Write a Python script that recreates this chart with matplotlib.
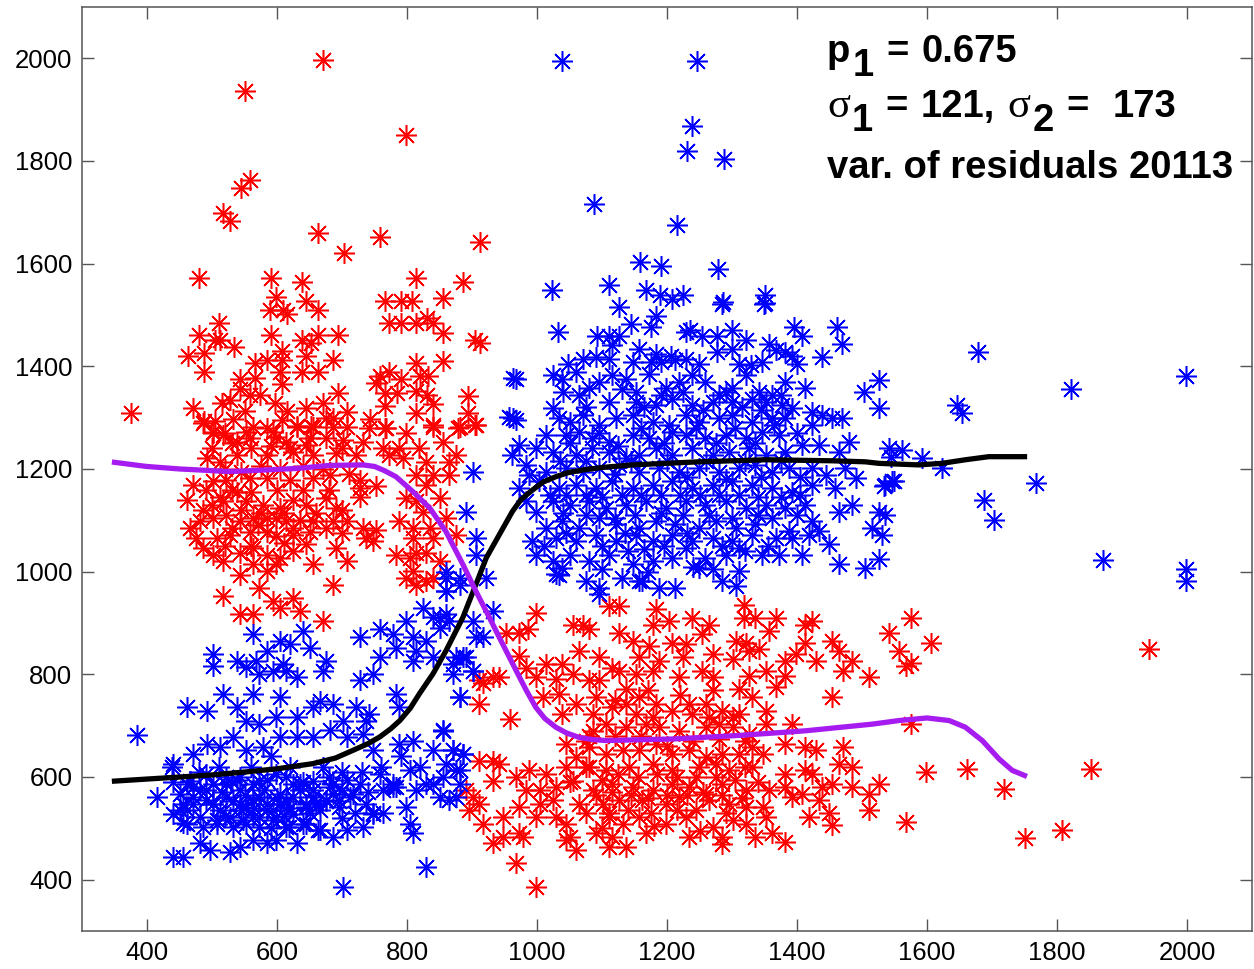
import matplotlib
matplotlib.use("Agg")
import matplotlib.pyplot as plt
from matplotlib.transforms import IdentityTransform
import numpy as np

plt.rcParams["font.family"] = ["Liberation Sans", "DejaVu Sans"]

# red points, upper-left group (x, y)
red_upper = [
    (671, 1996), (551, 1937), (799, 1850), (559, 1763), (544, 1747), (517, 1699), (527, 1683),
    (663, 1659), (703, 1620), (758, 1651), (912, 1642), (480, 1572), (590, 1572), (638, 1565),
    (599, 1536), (645, 1527), (663, 1510), (589, 1509), (609, 1509), (616, 1501), (814, 1572),
    (886, 1565), (766, 1527), (791, 1527), (807, 1527), (855, 1533), (773, 1485), (791, 1485),
    (814, 1485), (830, 1494), (840, 1485), (855, 1465), (855, 1410), (904, 1452), (912, 1446),
    (511, 1485), (480, 1462), (505, 1452), (512, 1452), (534, 1438), (463, 1420), (488, 1426),
    (488, 1388), (590, 1462), (638, 1452), (653, 1446), (663, 1462), (694, 1462), (645, 1420),
    (686, 1413), (607, 1430), (607, 1413), (584, 1413), (566, 1407), (566, 1378), (604, 1388),
    (607, 1365), (638, 1388), (663, 1388), (543, 1375), (543, 1355), (558, 1345), (574, 1345),
    (694, 1349), (753, 1368), (758, 1381), (773, 1388), (791, 1375), (766, 1349), (784, 1349),
    (766, 1323), (814, 1407), (820, 1381), (832, 1381), (814, 1352), (830, 1345), (840, 1326),
    (894, 1342), (894, 1310), (904, 1286), (814, 1310), (840, 1286), (878, 1280), (376, 1310),
    (470, 1318), (488, 1294), (505, 1294), (520, 1270), (502, 1270), (515, 1328), (528, 1334),
    (533, 1297), (551, 1313), (597, 1328), (615, 1313), (607, 1296), (645, 1318), (671, 1328),
    (676, 1299), (686, 1299), (707, 1312), (743, 1297), (766, 1280), (799, 1270), (630, 1283),
    (653, 1283), (594, 1273), (553, 1273),
    (486, 1289), (502, 1273), (563, 1282), (584, 1279), (630, 1282), (655, 1282), (686, 1282),
    (707, 1282), (742, 1279), (768, 1279), (840, 1282), (881, 1282), (906, 1286),
    (517, 1266), (538, 1253), (558, 1260), (599, 1263), (614, 1253), (645, 1247), (676, 1260),
    (701, 1256), (732, 1253), (763, 1240), (788, 1240), (819, 1240), (855, 1253), (876, 1227),
    (492, 1221), (512, 1214), (538, 1227), (584, 1227), (625, 1234), (655, 1227), (691, 1231),
    (722, 1227), (773, 1227), (794, 1221), (829, 1214), (865, 1214),
    (471, 1169), (502, 1176), (522, 1179), (558, 1182), (584, 1182), (620, 1179), (655, 1182),
    (681, 1188), (727, 1179), (727, 1163), (753, 1166), (814, 1188), (840, 1188), (865, 1188),
    (829, 1169),
    (461, 1140), (486, 1121), (512, 1146), (517, 1137), (538, 1156), (553, 1137), (579, 1130),
    (604, 1124), (625, 1140), (645, 1130), (676, 1143), (691, 1124), (727, 1146), (799, 1143),
    (814, 1137), (850, 1143), (824, 1117),
    (466, 1085), (481, 1098), (502, 1104), (522, 1111), (543, 1098), (563, 1104), (584, 1104),
    (599, 1104), (614, 1098), (635, 1101), (655, 1098), (686, 1098), (707, 1098), (732, 1085),
    (753, 1082), (788, 1098), (809, 1085), (860, 1104), (835, 1085), (476, 1066), (507, 1066),
    (527, 1072), (558, 1078), (584, 1078), (599, 1069), (625, 1072), (650, 1078), (676, 1085),
    (737, 1066), (748, 1059), (809, 1066), (840, 1066), (876, 1072),
    (486, 1046), (502, 1033), (517, 1020), (543, 1036), (563, 1046), (584, 1033), (604, 1027),
    (625, 1040), (645, 1053), (691, 1046), (707, 1020), (655, 1014), (563, 1014), (584, 1001),
    (599, 1014), (783, 1033), (804, 1027), (814, 1036), (829, 1036), (850, 1020), (809, 1001),
    (799, 988),
    (543, 994), (573, 969), (517, 952), (594, 943), (604, 930), (625, 949), (635, 923),
    (543, 917), (563, 917), (686, 975), (671, 904), (814, 975), (829, 981), (840, 988),
]

# overlapping marks in the dense middle of the upper-left red group
red_upper_core = [
    (500, 1240), (530, 1250), (560, 1240), (590, 1245), (620, 1240), (650, 1260), (700, 1240),
    (520, 1200), (545, 1195), (575, 1205), (605, 1200), (640, 1205), (670, 1200), (710, 1190),
    (490, 1160), (530, 1160), (560, 1155), (600, 1160), (640, 1160), (680, 1160), (545, 1120),
    (575, 1115), (610, 1115), (660, 1115), (700, 1120), (500, 1130), (530, 1085), (570, 1090),
    (625, 1085), (700, 1075), (560, 1050), (610, 1055), (520, 1050),
]

# red points, lower-right group
red_lower = [
    (911, 788), (932, 794), (911, 742), (911, 632), (932, 632), (891, 574), (901, 561),
    (911, 548), (896, 535), (917, 509), (932, 471),
    (998, 920), (1111, 933), (1126, 933), (1183, 927), (1178, 897), (1203, 904), (1239, 910),
    (1265, 897), (1318, 936), (1318, 910), (1336, 910), (1367, 910), (1413, 897), (1423, 904),
    (952, 881), (973, 881), (986, 888), (1055, 897), (1070, 897), (1080, 888), (1126, 881),
    (1147, 865), (1173, 855), (1208, 862), (1229, 859), (1254, 878), (1306, 865), (1321, 862),
    (1357, 885), (1454, 865), (1541, 881), (1413, 862),
    (973, 836), (983, 813), (1014, 820), (1039, 820), (1065, 846), (1096, 833), (1116, 813),
    (1157, 833), (1188, 826), (1224, 833), (1270, 839), (1301, 830), (1326, 846), (1342, 849),
    (1382, 826), (1398, 839), (1429, 826), (1464, 846), (1485, 826), (1557, 846),
    (917, 784), (942, 794), (998, 794), (1029, 791), (1055, 800), (1080, 788), (1096, 788),
    (1126, 807), (1152, 800), (1178, 807), (1219, 794), (1254, 807), (1270, 794), (1326, 797),
    (1352, 807), (1382, 797), (1470, 807), (1510, 794), (1367, 775), (1311, 771), (1137, 771),
    (1009, 755), (1034, 762), (1060, 742), (1091, 755), (1116, 736), (1137, 742), (1157, 755),
    (1183, 742), (1208, 729), (1234, 742), (1260, 742), (1285, 729), (1311, 723), (1331, 755),
    (1352, 729), (1454, 755), (958, 713), (1039, 723), (1086, 723), (1152, 723), (1178, 716),
    (1239, 723), (1265, 716), (1301, 716),
    (1086, 690), (1106, 703), (1137, 697), (1167, 703), (1188, 697), (1219, 690), (1260, 697),
    (1280, 703), (1301, 697), (1326, 684), (1352, 703), (1393, 703), (1382, 665), (1045, 665),
    (1075, 671),
    (1060, 639), (1080, 658), (1106, 645), (1132, 652), (1157, 652), (1183, 665), (1208, 645),
    (1234, 652), (1260, 639), (1285, 645), (1311, 645), (1331, 658), (1347, 645), (1413, 658),
    (1429, 652), (1470, 658), (942, 626), (988, 613), (1014, 606), (1045, 619), (1075, 619),
    (1106, 613), (1142, 619), (1178, 626), (1208, 613), (1249, 619), (1275, 626), (1295, 613),
    (1331, 619), (1382, 606), (1413, 613), (1423, 606), (1464, 626), (1485, 619),
    (932, 593), (968, 600), (983, 574), (1004, 574), (1029, 580), (1055, 593), (1086, 574),
    (1116, 587), (1147, 580), (1178, 574), (1208, 587), (1234, 580), (1260, 567), (1285, 587),
    (1321, 574), (1357, 574), (1382, 580), (1408, 567), (1439, 580), (1454, 587), (1485, 580),
    (1526, 587), (1510, 567), (973, 542), (1004, 548), (1024, 555), (1065, 548), (1101, 548),
    (1126, 555), (1162, 555), (1198, 548), (1219, 561), (1265, 555), (1295, 548), (1321, 542),
    (1347, 542), (1393, 561), (1434, 555),
    (947, 522), (973, 490), (998, 522), (1029, 522), (1045, 509), (1075, 529), (1111, 522),
    (1132, 509), (1157, 522), (1198, 509), (1229, 522), (1270, 503), (1301, 516), (1321, 509),
    (1352, 522), (1418, 522), (1449, 529), (1510, 535), (1454, 506), (947, 483), (978, 483),
    (1050, 483), (1091, 490), (1116, 483), (1167, 490), (1234, 483), (1285, 483), (1336, 483),
    (1362, 490),
    (1045, 477), (1060, 458), (1111, 464), (1137, 464), (1285, 470), (1382, 474), (968, 432),
    (998, 386),
]

red_lower_core = [
    (1080, 620), (1100, 595), (1125, 605), (1155, 600), (1185, 605), (1215, 600), (1245, 600),
    (1275, 600), (1305, 595), (1090, 565), (1115, 570), (1145, 565), (1170, 560), (1200, 565),
    (1230, 565), (1255, 570), (1285, 565), (1315, 560), (1110, 530), (1140, 535), (1175, 530),
    (1215, 535), (1245, 535), (1290, 530), (1080, 680), (1120, 680), (1160, 680), (1200, 660),
    (1240, 670), (1280, 675), (1320, 670), (1120, 750), (1170, 770), (1220, 760), (1270, 770),
    (1100, 500), (1180, 505), (1250, 495), (1050, 590), (1320, 620), (1340, 590),
]

# red points far to the right
red_right = [
    (1575, 910), (1606, 862), (1567, 817), (1575, 823), (1575, 703), (1598, 610), (1662, 616),
    (1718, 577), (1567, 512), (1751, 481), (1807, 496), (1853, 616), (1942, 849),
]

# blue points, lower-left group
blue_lower = [
    (563, 878), (584, 846), (604, 865), (620, 859), (640, 885), (650, 852), (727, 872),
    (758, 888), (778, 878), (799, 904), (824, 930), (840, 911), (860, 917), (809, 872),
    (829, 865), (783, 852), (814, 846), (850, 891),
    (502, 839), (502, 817), (538, 826), (553, 814), (568, 826), (573, 801), (594, 807),
    (614, 807), (630, 794), (609, 820), (676, 826), (671, 807), (758, 833), (748, 801),
    (727, 788), (809, 826), (840, 833), (870, 820), (886, 833), (901, 807), (881, 755),
    (461, 736), (492, 729), (517, 762), (538, 736), (553, 710), (573, 704), (563, 762),
    (604, 755), (599, 717), (630, 717), (655, 736), (666, 749), (686, 742), (701, 710),
    (722, 736), (737, 710), (742, 723), (783, 762), (788, 736),
    (384, 681), (440, 626), (471, 645), (492, 665), (512, 658), (533, 678), (553, 652),
    (579, 658), (604, 678), (630, 678), (655, 678), (681, 691), (707, 678), (732, 684),
    (748, 652), (788, 665), (809, 671), (855, 691), (840, 652), (870, 652), (886, 645),
    (415, 561), (461, 587), (481, 574), (502, 587), (522, 600), (538, 594), (563, 587),
    (584, 594), (614, 600), (635, 587), (655, 574), (686, 587), (707, 594), (727, 587),
    (758, 606), (783, 581), (804, 613), (829, 587), (855, 600), (876, 613), (881, 587),
    (451, 535), (471, 548), (502, 548), (522, 561), (543, 548), (563, 555), (584, 535),
    (604, 548), (625, 561), (645, 542), (676, 555), (696, 542), (712, 561), (748, 529),
    (763, 529), (778, 587), (799, 542), (814, 574), (840, 587), (850, 561),
    (461, 509), (486, 503), (507, 516), (527, 522), (553, 509), (573, 522), (594, 516),
    (614, 503), (645, 509), (666, 497), (686, 484), (707, 497), (732, 503), (804, 509),
    (809, 490),
    (440, 445), (456, 445), (481, 471), (497, 458), (527, 454), (543, 464), (563, 477),
    (584, 471), (599, 477), (630, 471), (663, 496),
    (456, 548), (471, 561), (491, 574), (502, 548), (512, 535), (532, 554), (543, 574),
    (553, 541), (563, 522), (573, 561), (584, 548), (594, 535), (604, 567), (614, 554),
    (625, 528), (635, 574), (645, 548), (655, 561), (666, 535), (676, 554), (686, 567),
    (481, 522), (507, 509), (532, 503), (548, 516), (573, 503), (599, 522), (619, 503),
    (640, 509), (466, 593), (491, 606), (522, 587), (543, 600), (573, 593), (599, 606),
    (625, 587), (655, 593), (681, 580), (696, 554), (717, 567), (737, 548), (747, 528),
    (763, 574), (778, 580), (450, 567), (440, 528), (461, 535),
    (860, 988), (881, 988), (922, 988), (860, 962), (850, 910), (865, 904), (901, 904),
    (906, 872), (932, 923), (917, 872), (876, 833), (891, 833), (901, 807), (870, 800),
    (881, 755), (855, 690), (870, 652), (886, 645), (860, 626), (881, 613), (865, 555),
    (876, 561),
]

blue_lower_core = [
    (470, 580), (490, 555), (515, 570), (530, 590), (550, 565), (565, 540), (580, 575),
    (600, 560), (620, 540), (640, 590), (660, 550), (680, 600), (700, 575), (520, 525),
    (545, 535), (590, 500), (610, 525), (650, 530), (480, 610), (510, 620), (560, 620),
    (590, 640), (620, 620), (670, 620), (700, 610), (730, 610), (760, 620), (790, 640),
    (820, 620), (440, 590), (455, 510), (720, 530), (700, 520), (740, 570),
]

# blue points, upper-right group
blue_upper = [
    (1126, 1515), (1285, 1522), (1349, 1522), (1032, 1467), (1093, 1460), (1111, 1460),
    (1126, 1460), (1144, 1483), (1175, 1476), (1183, 1499), (1229, 1467), (1236, 1470),
    (1254, 1460), (1277, 1460), (1300, 1470), (1321, 1451), (1395, 1476), (1408, 1460),
    (1462, 1476), (1469, 1444),
    (1116, 1441), (1157, 1434), (1183, 1425), (1206, 1421), (1229, 1415), (1249, 1405),
    (1277, 1428), (1300, 1434), (1357, 1444), (1367, 1431), (1382, 1428), (1393, 1421),
    (1400, 1405), (1439, 1418), (1047, 1405), (1070, 1415), (1090, 1418), (1111, 1415),
    (1147, 1409), (1175, 1409), (1190, 1409), (1213, 1412), (1311, 1405), (1329, 1402),
    (1346, 1409),
    (968, 1376), (1024, 1383), (1039, 1376), (1060, 1389), (1080, 1357), (1096, 1370),
    (1116, 1383), (1137, 1376), (1152, 1350), (1172, 1386), (1198, 1357), (1218, 1370),
    (1239, 1383), (1259, 1370), (1280, 1344), (1300, 1357), (1321, 1383), (1341, 1350),
    (1362, 1344), (1382, 1370), (1413, 1357), (1503, 1350), (1526, 1373), (1526, 1318),
    (1065, 1344), (1111, 1331), (1152, 1331), (1183, 1324), (1208, 1337), (1239, 1324),
    (1270, 1331), (1300, 1331), (1331, 1337), (1352, 1331), (1377, 1324), (1393, 1318),
    (957, 1302), (968, 1295), (1024, 1318), (1034, 1299), (1050, 1292), (1070, 1305),
    (1096, 1286), (1121, 1299), (1147, 1305), (1178, 1292), (1203, 1286), (1229, 1305),
    (1249, 1292), (1280, 1299), (1300, 1305), (1331, 1292), (1362, 1299), (1382, 1299),
    (1423, 1312), (1439, 1305), (1454, 1299), (1469, 1299), (1423, 1286), (1014, 1266),
    (1044, 1266), (1065, 1273), (1085, 1260), (1111, 1253), (1147, 1266), (1172, 1260),
    (1208, 1273), (1229, 1266), (1259, 1260), (1290, 1266), (1321, 1260), (1346, 1273),
    (1372, 1266),
    (973, 1247), (998, 1240), (1024, 1234), (1060, 1227), (1085, 1240), (1111, 1234),
    (1137, 1221), (1157, 1227), (1183, 1240), (1208, 1227), (1239, 1240), (1270, 1227),
    (1295, 1234), (1326, 1240), (1352, 1227), (1382, 1234), (1408, 1247), (1434, 1247),
    (1464, 1234), (1480, 1253), (1541, 1240), (1562, 1237), (1592, 1221), (962, 1227),
    (983, 1208), (988, 1189), (1014, 1195), (1044, 1202), (1070, 1195), (1096, 1202),
    (1126, 1208), (1157, 1195), (1188, 1202), (1218, 1195), (1249, 1202), (1280, 1195),
    (1311, 1202), (1336, 1208), (1362, 1195), (1387, 1202), (1423, 1202), (1444, 1189),
    (1474, 1202), (1490, 1182), (1623, 1202), (1544, 1224),
    (973, 1163), (1003, 1176), (1034, 1163), (1060, 1169), (1090, 1163), (1116, 1176),
    (1147, 1163), (1178, 1169), (1208, 1176), (1239, 1163), (1270, 1169), (1300, 1176),
    (1331, 1169), (1362, 1163), (1393, 1156), (1423, 1169), (1459, 1163), (1536, 1169),
    (1546, 1176), (983, 1137), (998, 1117), (1024, 1137), (1050, 1130), (1080, 1137),
    (1106, 1124), (1137, 1130), (1167, 1137), (1198, 1124), (1229, 1137), (1259, 1130),
    (1290, 1137), (1321, 1124), (1352, 1130), (1382, 1124), (1413, 1130), (1464, 1117),
    (1485, 1130), (1526, 1117), (1536, 1111),
    (1014, 1085), (1039, 1098), (1065, 1085), (1096, 1104), (1121, 1092), (1157, 1085),
    (1183, 1098), (1213, 1092), (1249, 1085), (1275, 1098), (1306, 1085), (1336, 1092),
    (1362, 1104), (1387, 1079), (1423, 1098), (1434, 1079), (1515, 1085), (1531, 1072),
    (993, 1059), (1029, 1066), (1060, 1059), (1090, 1072), (1121, 1059), (1152, 1072),
    (1178, 1059), (1208, 1072), (1239, 1059), (1270, 1066), (1300, 1059), (1331, 1072),
    (1367, 1066), (1393, 1066), (1418, 1072), (1449, 1053),
    (998, 1033), (1024, 1020), (1050, 1033), (1080, 1020), (1111, 1033), (1147, 1014),
    (1178, 1020), (1208, 1027), (1229, 1046), (1259, 1027), (1290, 1033), (1311, 1046),
    (1346, 1033), (1372, 1033), (1408, 1033), (1464, 1014), (1505, 1007), (1526, 1024),
    (1034, 994), (1075, 982), (1096, 969), (1131, 988), (1162, 982), (1188, 969),
    (1213, 969), (1249, 1007), (1285, 982), (1306, 972), (1311, 1001), (1039, 1007),
    (1096, 956), (1157, 982), (1029, 995),
    (901, 1195), (891, 1117), (906, 1066), (906, 1033), (860, 1000), (881, 975), (860, 962),
    (963, 1377), (963, 1299),
]

blue_upper_core = [
    (1040, 1350), (1075, 1320), (1130, 1355), (1165, 1320), (1190, 1345), (1225, 1350),
    (1255, 1315), (1290, 1350), (1315, 1320), (1345, 1315), (1375, 1345), (1050, 1250),
    (1095, 1270), (1125, 1245), (1160, 1280), (1195, 1250), (1245, 1280), (1275, 1250),
    (1305, 1280), (1335, 1250), (1365, 1285), (1400, 1270), (1035, 1215), (1075, 1215),
    (1120, 1190), (1145, 1215), (1200, 1215), (1230, 1185), (1260, 1215), (1290, 1180),
    (1320, 1215), (1345, 1185), (1375, 1215), (1405, 1185), (1020, 1150), (1045, 1150),
    (1075, 1150), (1100, 1145), (1130, 1150), (1160, 1150), (1190, 1150), (1220, 1150),
    (1250, 1150), (1280, 1150), (1310, 1150), (1340, 1145), (1375, 1145), (1405, 1150),
    (1040, 1115), (1075, 1110), (1120, 1105), (1150, 1110), (1190, 1115), (1225, 1110),
    (1265, 1110), (1300, 1105), (1340, 1110), (1400, 1110), (1010, 1050), (1045, 1075),
    (1100, 1050), (1135, 1075), (1165, 1045), (1195, 1050), (1230, 1075), (1285, 1050),
    (1320, 1040), (1355, 1050), (1100, 1005), (1140, 1040), (1240, 1010), (1170, 1000),
    (1270, 1005),
]

# isolated blue points
blue_out = [
    (1039, 1994), (1246, 1994), (1238, 1868), (1230, 1819), (1287, 1804), (1087, 1717),
    (1215, 1675), (1159, 1604), (1190, 1595), (1279, 1589), (1023, 1549), (1110, 1558),
    (1167, 1549), (1189, 1539), (1207, 1532), (1224, 1539), (1286, 1526), (1351, 1539),
    (1351, 1523), (1679, 1427), (1822, 1356), (1998, 1381), (1646, 1325), (1654, 1309),
    (1549, 1176), (1534, 1166), (1767, 1173), (1687, 1140), (1703, 1101), (1870, 1022),
    (1998, 1006), (1998, 982), (701, 386), (829, 425), (439, 619),
]

# fitted curves
black_x = [350, 400, 451, 500, 553, 600, 655, 690, 717, 740, 758, 775, 789, 805, 819, 840,
           860, 886, 906, 922, 942, 962, 975, 993, 1010, 1029, 1048, 1070, 1100, 1147, 1249,
           1352, 1454, 1505, 1526, 1587, 1623, 1659, 1695, 1750]
black_y = [592, 596, 600, 604, 610, 616, 626, 637, 652, 665, 678, 694, 710, 734, 762, 801,
           846, 911, 975, 1027, 1072, 1117, 1140, 1159, 1175, 1185, 1193, 1198, 1203, 1208,
           1214, 1218, 1216, 1214, 1211, 1208, 1211, 1218, 1224, 1224]
purple_x = [350, 399, 451, 527, 579, 630, 681, 732, 750, 765, 783, 809, 835, 860, 886, 906,
            925, 942, 968, 983, 998, 1012, 1029, 1045, 1065, 1085, 1106, 1208, 1311, 1413,
            1516, 1557, 1600, 1634, 1659, 1685, 1711, 1731, 1750]
purple_y = [1213, 1205, 1200, 1195, 1198, 1201, 1207, 1208, 1205, 1197, 1185, 1156, 1124,
            1078, 1014, 962, 915, 872, 807, 770, 736, 714, 697, 686, 677, 673, 671, 674, 681,
            690, 703, 710, 715, 710, 697, 671, 635, 613, 603]

W, H = 1254, 969
fig = plt.figure(figsize=(W / 100, H / 100), dpi=100)
ax = fig.add_axes([82 / W, (H - 931) / H, 1170 / W, 924 / H])

star = (8, 2, 0)


def stars(pts, color):
    pts = np.asarray(pts, dtype=float)
    ax.plot(pts[:, 0], pts[:, 1], linestyle="none", marker=star, ms=15, mew=1.1,
            color=color)


for grp in (red_upper, red_upper_core, red_lower, red_lower_core, red_right):
    stars(grp, "#ff0000")
for grp in (blue_lower, blue_lower_core, blue_upper, blue_upper_core, blue_out):
    stars(grp, "#0000ff")

ax.plot(black_x, black_y, color="black", lw=3.8, solid_joinstyle="round")
ax.plot(purple_x, purple_y, color="#a61cf0", lw=3.8, solid_joinstyle="round")

ax.set_xlim(300, 2100)
ax.set_ylim(300, 2100)
ax.set_xticks(range(400, 2001, 200))
ax.set_yticks(range(400, 2001, 200))
ax.tick_params(direction="in", length=8.5, width=1.0, color="#555555", labelcolor="black",
               labelsize=18.5, pad=7, top=True, right=True)
for sp in ax.spines.values():
    sp.set_color("#555555")
    sp.set_linewidth(1.1)

# annotation, built piece by piece so the subscripts stay full size
big = 27.5
em = big * 100 / 72
gap = 0.278 * em
drop = 0.36 * em


def write_line(x, base, parts):
    r = fig.canvas.get_renderer()
    for s, sub in parts:
        if s == " ":
            x += gap
            continue
        if s == "σ":
            kw = dict(family="Liberation Serif", fontweight="normal", fontsize=big * 1.12)
        else:
            kw = dict(family="Liberation Sans", fontweight="bold", fontsize=big)
        t = fig.text(x, H - base - (drop if sub else 0), s, transform=IdentityTransform(),
                     ha="left", va="baseline", **kw)
        x = t.get_window_extent(r).x1 + 2


write_line(827, 62, [("p", 0), ("1", 1), (" ", 0), ("=", 0), (" ", 0), ("0.675", 0)])
write_line(827, 117, [("σ", 0), ("1", 1), (" ", 0), ("=", 0), (" ", 0), ("121,", 0),
                      (" ", 0), ("σ", 0), ("2", 1), (" ", 0), ("=", 0), (" ", 0), (" ", 0),
                      ("173", 0)])
write_line(827, 178, [("var. of residuals 20113", 0)])

fig.savefig("out.png", dpi=100)
